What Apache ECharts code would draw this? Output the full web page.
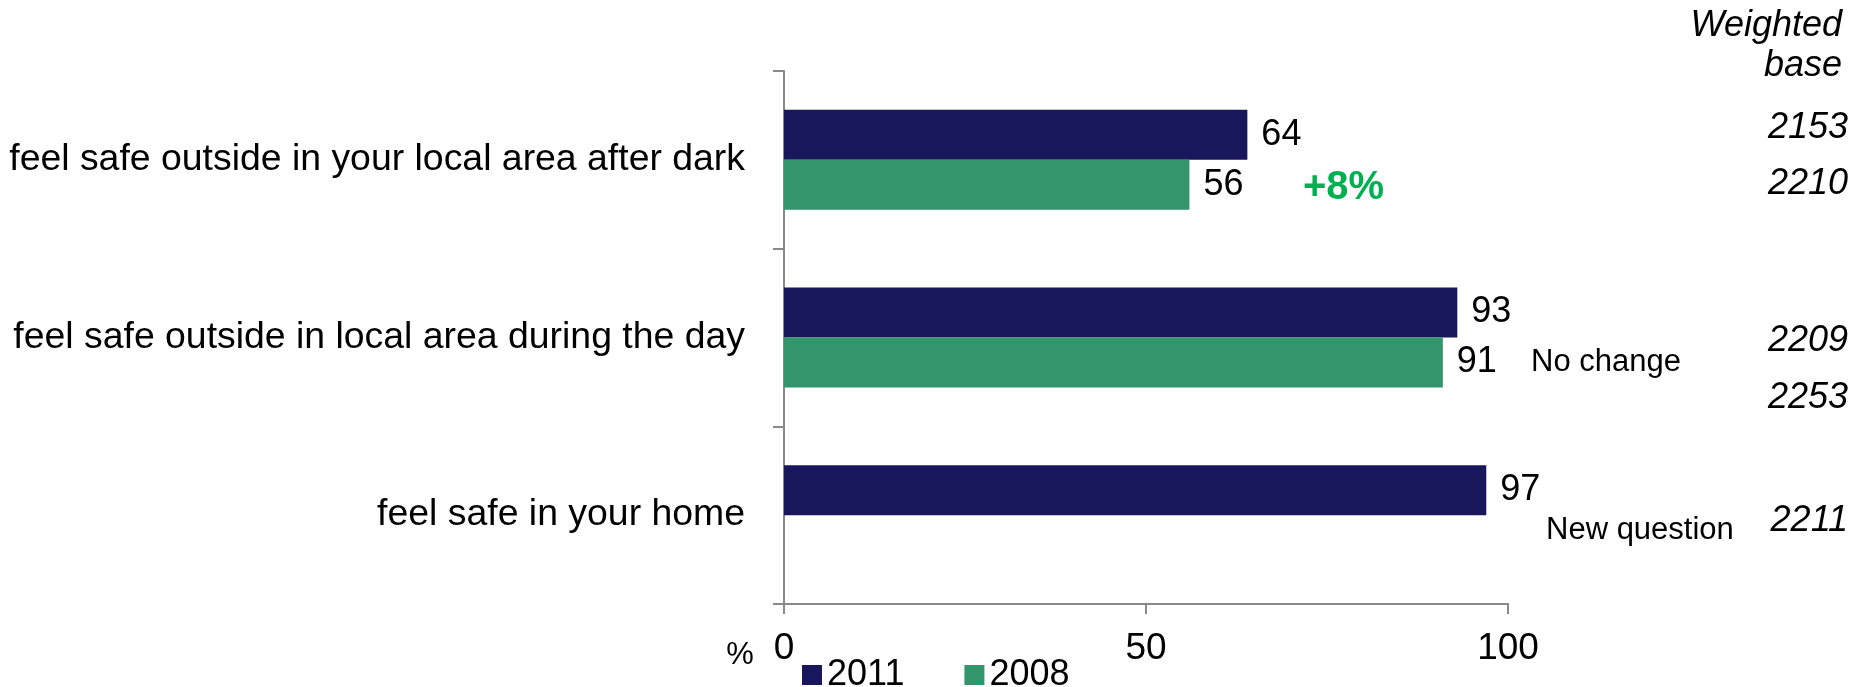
<!DOCTYPE html>
<html>
<head>
<meta charset="utf-8">
<script src="https://cdn.jsdelivr.net/npm/echarts@6/dist/echarts.min.js"></script>
<style>
  html, body { margin: 0; padding: 0; background: #fff; }
  #chart { width: 1850px; height: 687px; }
</style>
</head>
<body>
<div id="chart"></div>
<script>
// ---- data ----
const categories = [
  'feel safe outside in your local area after dark',
  'feel safe outside in local area during the day',
  'feel safe in your home'
];
const seriesNames = ['2011', '2008'];
const values2011 = [64, 93, 97];
const values2008 = [56, 91, null];
const xTicks = [0, 50, 100];
const changeNotes = ['+8%', 'No change', 'New question'];
const weightedBase2011 = [2153, 2209, 2211];
const weightedBase2008 = [2210, 2253, null];
const baseTitle = ['Weighted', 'base'];
const axisUnit = '%';

// ---- styles / layout ----
const FONT = 'Liberation Sans, Arial, sans-serif';
const colors = ['#18175c', '#33956b'];
const axisColor = '#898989';

const chart = echarts.init(document.getElementById('chart'), null, { renderer: 'canvas' });

const graphics = [];
// unit label
graphics.push({ type: 'text', x: 740, y: 655, style: { text: axisUnit, font: '31px ' + FONT, fill: '#000', align: 'center', verticalAlign: 'middle' } });
// change notes
const notePos = [
  { x: 1303, y: 188, font: 'bold 40px ' + FONT, fill: '#00b050' },
  { x: 1531, y: 362, font: '31px ' + FONT, fill: '#000' },
  { x: 1546, y: 530, font: '31px ' + FONT, fill: '#000' }
];
changeNotes.forEach((t, i) => {
  graphics.push({ type: 'text', x: notePos[i].x, y: notePos[i].y,
    style: { text: t, font: notePos[i].font, fill: notePos[i].fill, align: 'left', verticalAlign: 'middle' } });
});
// weighted base header
const basePosY = [26, 66];
baseTitle.forEach((t, i) => {
  graphics.push({ type: 'text', x: 1842, y: basePosY[i],
    style: { text: t, font: 'italic 36px ' + FONT, fill: '#000', align: 'right', verticalAlign: 'middle' } });
});
// weighted base values
const wb2011Y = [128, 341, 521];
const wb2008Y = [184, 398, null];
weightedBase2011.forEach((v, i) => {
  if (v == null) return;
  graphics.push({ type: 'text', x: 1848, y: wb2011Y[i],
    style: { text: String(v), font: 'italic 36px ' + FONT, fill: '#000', align: 'right', verticalAlign: 'middle' } });
});
weightedBase2008.forEach((v, i) => {
  if (v == null) return;
  graphics.push({ type: 'text', x: 1848, y: wb2008Y[i],
    style: { text: String(v), font: 'italic 36px ' + FONT, fill: '#000', align: 'right', verticalAlign: 'middle' } });
});

const valueLabel = {
  show: true, position: 'right', distance: 14,
  color: '#000', fontSize: 36, fontFamily: FONT
};

chart.setOption({
  animation: false,
  backgroundColor: '#fff',
  grid: { left: 784, right: 342, top: 71, bottom: 83, containLabel: false },
  legend: {
    data: seriesNames,
    left: 797, top: 652,
    itemWidth: 20, itemHeight: 20, itemGap: 60,
    icon: 'rect',
    textStyle: { fontSize: 36, fontFamily: FONT, color: '#000' }
  },
  xAxis: {
    type: 'value', min: xTicks[0], max: xTicks[xTicks.length - 1], interval: xTicks[1] - xTicks[0],
    splitLine: { show: false },
    axisLine: { show: true, lineStyle: { color: axisColor, width: 2 } },
    axisTick: { show: true, length: 10, lineStyle: { color: axisColor, width: 2 } },
    axisLabel: { margin: 26, fontSize: 37, fontFamily: FONT, color: '#000' }
  },
  yAxis: {
    type: 'category', data: categories, inverse: true,
    axisLine: { show: true, lineStyle: { color: axisColor, width: 2 } },
    axisTick: { show: true, length: 11, lineStyle: { color: axisColor, width: 2 } },
    axisLabel: { margin: 39, fontSize: 37.4, fontFamily: FONT, color: '#000' }
  },
  series: [
    { name: seriesNames[0], type: 'bar', data: values2011, barWidth: 50, barGap: '0%',
      itemStyle: { color: colors[0] }, label: valueLabel },
    { name: seriesNames[1], type: 'bar', data: values2008, barWidth: 50, barGap: '0%',
      itemStyle: { color: colors[1] }, label: valueLabel }
  ],
  graphic: graphics
});
</script>
</body>
</html>
